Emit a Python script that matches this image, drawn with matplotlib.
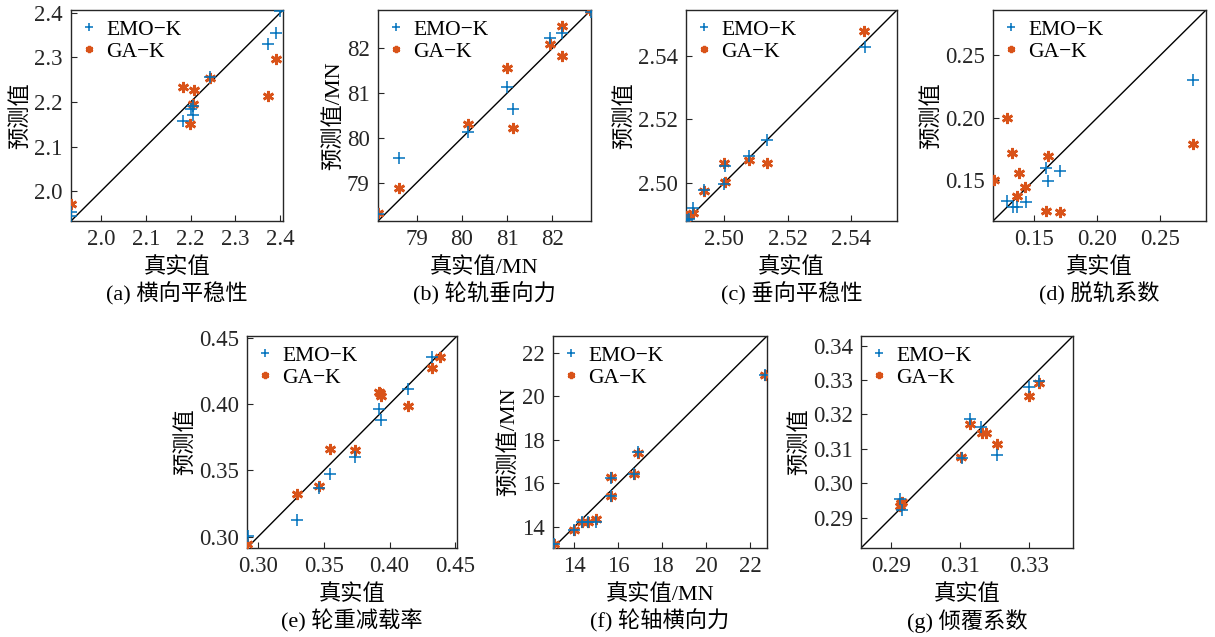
import numpy as np
import matplotlib
matplotlib.use("Agg")
import matplotlib.pyplot as plt

plt.rcParams['font.family'] = ['Liberation Serif', 'Noto Sans CJK SC']
plt.rcParams['axes.unicode_minus'] = False

# (a) 横向平稳性
a_emo_x = [2.399, 2.390, 2.372, 2.182, 2.200, 2.206, 2.206, 1.932, 1.932, 2.243]
a_emo_y = [2.404, 2.355, 2.330, 2.157, 2.184, 2.191, 2.171, 1.953, 1.944, 2.256]
a_ga_x = [2.391, 2.372, 2.243, 2.182, 2.207, 2.206, 2.199, 1.933]
a_ga_y = [2.296, 2.213, 2.253, 2.233, 2.226, 2.196, 2.150, 1.970]

# (b) 轮轨垂向力
b_emo_x = [78.60, 80.14, 81.00, 81.14, 81.95, 82.22, 82.86, 78.14]
b_emo_y = [79.56, 80.12, 81.13, 80.64, 82.24, 82.35, 82.82, 78.29]
b_ga_x = [78.14, 78.60, 80.14, 81.00, 81.14, 81.96, 82.22, 82.22, 82.84]
b_ga_y = [78.32, 78.87, 80.31, 81.57, 80.21, 82.11, 82.51, 81.84, 82.85]

# (c) 垂向平稳性
c_emo_x = [2.5443, 2.5134, 2.5079, 2.5002, 2.5000, 2.4938, 2.4901, 2.4890, 2.4884]
c_emo_y = [2.5427, 2.5136, 2.5085, 2.5052, 2.4996, 2.4978, 2.4921, 2.4886, 2.4882]
c_ga_x = [2.5441, 2.5134, 2.5079, 2.5000, 2.5002, 2.4938, 2.4901, 2.4884, 2.4880]
c_ga_y = [2.5480, 2.5062, 2.5073, 2.5062, 2.5002, 2.4976, 2.4904, 2.4897, 2.4882]

# (d) 脱轨系数
d_emo_x = [0.2761, 0.1588, 0.1705, 0.1607, 0.1281, 0.1431, 0.1327, 0.1361]
d_emo_y = [0.2300, 0.1596, 0.1572, 0.1489, 0.1334, 0.1324, 0.1283, 0.1283]
d_ga_x = [0.2761, 0.1281, 0.1324, 0.1607, 0.1380, 0.1425, 0.1361, 0.1177, 0.1588, 0.1705]
d_ga_y = [0.1789, 0.1997, 0.1717, 0.1693, 0.1559, 0.1444, 0.1374, 0.1503, 0.1254, 0.1241]

# (e) 轮重减载率
e_emo_x = [0.2921, 0.3298, 0.3463, 0.3547, 0.3736, 0.3916, 0.3938, 0.4143, 0.4320]
e_emo_y = [0.3003, 0.3128, 0.3371, 0.3471, 0.3599, 0.3959, 0.3879, 0.4114, 0.4352]
e_ga_x = [0.2916, 0.3298, 0.3463, 0.3547, 0.3736, 0.3916, 0.3927, 0.3938, 0.4143, 0.4320, 0.4384]
e_ga_y = [0.2945, 0.3323, 0.3383, 0.3664, 0.3656, 0.4094, 0.4080, 0.4057, 0.3987, 0.4272, 0.4355]

# (f) 轮轴横向力
f_emo_x = [22.68, 16.90, 16.70, 15.68, 15.68, 14.97, 14.64, 14.35, 13.97, 13.06]
f_emo_y = [21.00, 17.46, 16.43, 16.26, 15.44, 14.23, 14.21, 14.21, 13.86, 13.20]
f_ga_x = [22.68, 16.90, 16.70, 15.68, 15.68, 14.97, 14.64, 14.35, 13.97, 13.06]
f_ga_y = [21.00, 17.41, 16.43, 16.31, 15.44, 14.38, 14.21, 14.21, 13.86, 13.20]

# (g) 倾覆系数
g_emo_x = [0.2924, 0.2932, 0.3105, 0.3130, 0.3162, 0.3206, 0.3299, 0.3328]
g_emo_y = [0.2954, 0.2923, 0.3074, 0.3188, 0.3165, 0.3081, 0.3281, 0.3298]
g_ga_x = [0.2924, 0.2928, 0.2932, 0.3102, 0.3130, 0.3164, 0.3175, 0.3206, 0.3299, 0.3328]
g_ga_y = [0.2935, 0.2942, 0.2946, 0.3077, 0.3173, 0.3146, 0.3146, 0.3115, 0.3255, 0.3292]

captions = ['(a) 横向平稳性', '(b) 轮轨垂向力', '(c) 垂向平稳性', '(d) 脱轨系数',
            '(e) 轮重减载率', '(f) 轮轴横向力', '(g) 倾覆系数']
xlabels = ['真实值', '真实值/MN', '真实值', '真实值', '真实值', '真实值/MN', '真实值']
ylabels = ['预测值', '预测值/MN', '预测值', '预测值', '预测值', '预测值/MN', '预测值']

limits = [(1.933, 2.406), (78.14, 82.86), (2.488, 2.5545), (0.117, 0.2865),
          (0.2915, 0.4513), (13.03, 22.77), (0.2812, 0.3428)]
xticks = [[2.0, 2.1, 2.2, 2.3, 2.4], [79, 80, 81, 82], [2.50, 2.52, 2.54], [0.15, 0.20, 0.25],
          [0.30, 0.35, 0.40, 0.45], [14, 16, 18, 20, 22], [0.29, 0.31, 0.33]]
yticks = [[2.0, 2.1, 2.2, 2.3, 2.4], [79, 80, 81, 82], [2.50, 2.52, 2.54], [0.15, 0.20, 0.25],
          [0.30, 0.35, 0.40, 0.45], [14, 16, 18, 20, 22], [0.29, 0.30, 0.31, 0.32, 0.33, 0.34]]
fmts = ['%.1f', '%d', '%.2f', '%.2f', '%.2f', '%d', '%.2f']

data = [(a_emo_x, a_emo_y, a_ga_x, a_ga_y), (b_emo_x, b_emo_y, b_ga_x, b_ga_y),
        (c_emo_x, c_emo_y, c_ga_x, c_ga_y), (d_emo_x, d_emo_y, d_ga_x, d_ga_y),
        (e_emo_x, e_emo_y, e_ga_x, e_ga_y), (f_emo_x, f_emo_y, f_ga_x, f_ga_y),
        (g_emo_x, g_emo_y, g_ga_x, g_ga_y)]

W, H = 1215, 637
# axes boxes in pixels: left, top, right, bottom
boxes = [(71, 10, 283, 221), (378, 10, 591, 221), (686, 10, 897, 221), (993, 10, 1206, 221),
         (247, 336, 457, 548), (553, 336, 767, 548), (861, 336, 1073, 548)]

blue = '#0072BD'
orange = '#D95319'
tick_fs = 16.5
lab_fs = 15.5

fig = plt.figure(figsize=(W / 100, H / 100), dpi=100)

for i in range(7):
    l, t, r, b = boxes[i]
    hpx = b - t
    ax = fig.add_axes([l / W, 1 - b / H, (r - l) / W, hpx / H])
    ex, ey, gx, gy = data[i]
    lo, hi = limits[i]
    ax.plot([lo, hi], [lo, hi], color='k', lw=1.0, zorder=1)
    ax.plot(gx, gy, ls='none', marker=(6, 2, 0), ms=8, mew=1.9, color=orange, label='GA−K', zorder=3)
    ax.plot(ex, ey, ls='none', marker='+', ms=9, mew=1.1, color=blue, label='EMO−K', zorder=4)
    ax.set_xlim(lo, hi)
    ax.set_ylim(lo, hi)
    ax.set_xticks(xticks[i])
    ax.set_yticks(yticks[i])
    ax.set_xticklabels([fmts[i] % v for v in xticks[i]])
    ax.set_yticklabels([fmts[i] % v for v in yticks[i]])
    ax.tick_params(direction='in', length=4, width=0.8, labelsize=tick_fs, colors='#262626', pad=6)
    for s in ax.spines.values():
        s.set_linewidth(1.0)
        s.set_color('#262626')
    ax.set_xlabel(xlabels[i], fontsize=lab_fs + 0.5, labelpad=5)
    ax.set_ylabel(ylabels[i], fontsize=lab_fs + 0.5, labelpad=2)
    ax.text(0.5, -73 / hpx, captions[i], transform=ax.transAxes, ha='center', va='center',
            fontsize=lab_fs + 0.5)
    h, lab = ax.get_legend_handles_labels()
    ax.legend([h[1], h[0]], [lab[1], lab[0]], loc='upper left', frameon=False, fontsize=lab_fs,
              markerscale=0.65, handlelength=0.8, handletextpad=0.4, borderaxespad=0.2,
              labelspacing=0.1, borderpad=0.25)

plt.savefig('out.png', dpi=100)
